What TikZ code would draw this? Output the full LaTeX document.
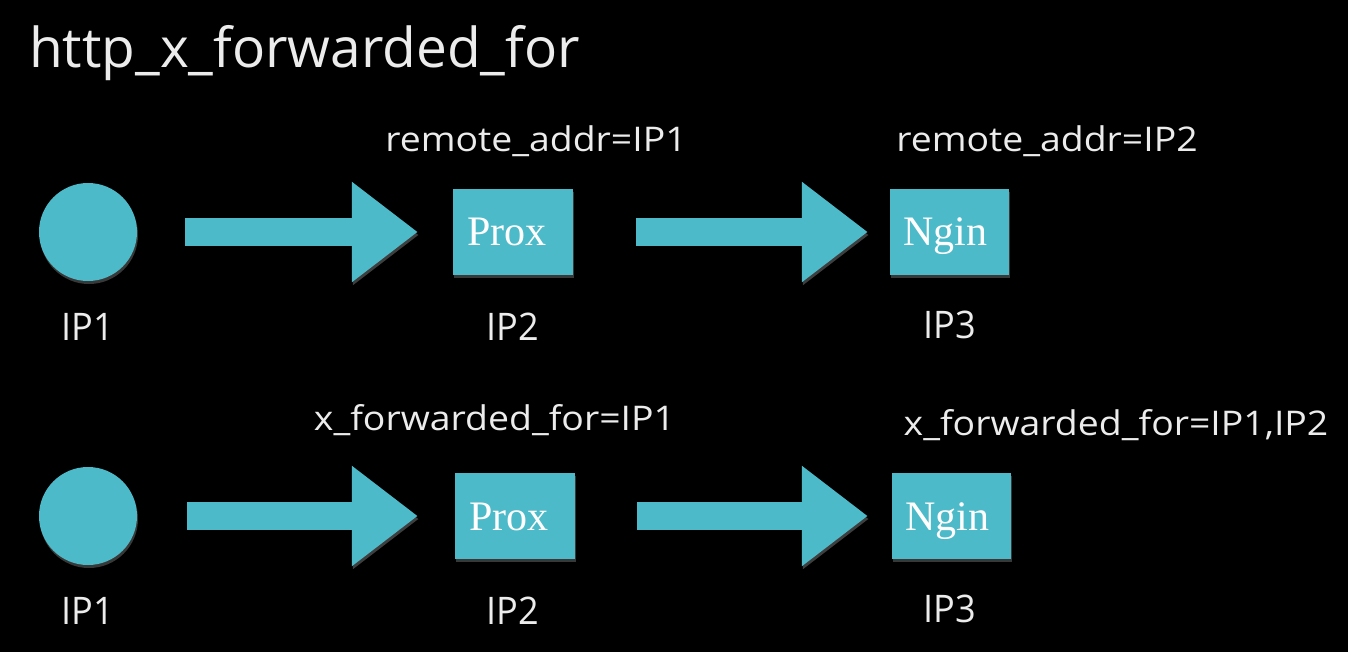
\documentclass[tikz,border=0pt]{standalone}
\usepackage{fontspec}
\setmainfont{Open Sans}
\newfontfamily\boxfont{Liberation Serif}
\usetikzlibrary{arrows.meta,calc,shadows}
\definecolor{tealc}{RGB}{76,186,200}
\definecolor{txt}{RGB}{236,236,236}
\definecolor{glowc}{RGB}{62,62,62}
\begin{document}
\begin{tikzpicture}[x=1pt,y=-1pt,
  glowy/.style={drop shadow={fill=white, opacity=0.22, shadow xshift=1pt, shadow yshift=-3pt}},
  hostc/.style={circle, fill=tealc, minimum size=98pt, inner sep=0pt, glowy},
  server/.style={rectangle, fill=tealc, minimum width=120pt, minimum height=86pt, inner sep=0pt,
    text height=28pt, text depth=0pt, font=\boxfont\fontsize{42}{44}\selectfont, text=white, glowy},
  flow/.style={draw=tealc, line width=28pt, -{Triangle[width=96pt,length=66pt]},
    preaction={draw=glowc, -{Triangle[width=96pt,length=66pt]}, transform canvas={shift={(1pt,-3pt)}}}},
  iplabel/.style={anchor=base, text=txt, font=\fontsize{38}{40}\selectfont, xscale=0.95, inner sep=0pt},
  hdr/.style={anchor=base, text=txt, font=\fontsize{34}{36}\selectfont, xscale=1.1, inner sep=0pt},
]
\useasboundingbox[fill=black] (0,0) rectangle (1348,652);

\node[anchor=base west, text=txt, font=\fontsize{55}{60}\selectfont, inner sep=0pt] (title) at (29,68) {http\_x\_forwarded\_for};

% row 1
\node[hostc] (c1) at (88,232) {};
\node[server] (p1) at (513,232) {\hspace*{-12pt}Prox};
\node[server, minimum width=119pt] (n1) at (949.5,232) {\hspace*{-8pt}Ngin};
\draw[flow, shorten <=48pt, shorten >=35pt] (c1) -- (p1);
\draw[flow, shorten <=63pt, shorten >=22pt] (p1) -- (n1);
\node[hdr] (h1) at (536,152) {remote\_addr=IP1};
\node[hdr] (h2) at (1047,152) {remote\_addr=IP2};
\node[iplabel] (l1) at (88,340) {IP1};
\node[iplabel] (l2) at (513,340) {IP2};
\node[iplabel] (l3) at (950,338) {IP3};

% row 2
\node[hostc] (c2) at (88,516) {};
\node[server] (p2) at (515,516) {\hspace*{-12pt}Prox};
\node[server, minimum width=119pt] (n2) at (951.5,516) {\hspace*{-8pt}Ngin};
\draw[flow, shorten <=50pt, shorten >=37pt] (c2) -- (p2);
\draw[flow, shorten <=62pt, shorten >=24pt] (p2) -- (n2);
\node[hdr] (h3) at (494.5,430) {x\_forwarded\_for=IP1};
\node[hdr] (h4) at (1116,435) {x\_forwarded\_for=IP1,IP2};
\node[iplabel] (l4) at (88,624) {IP1};
\node[iplabel] (l5) at (513,624) {IP2};
\node[iplabel] (l6) at (950,622) {IP3};
\end{tikzpicture}
\end{document}
